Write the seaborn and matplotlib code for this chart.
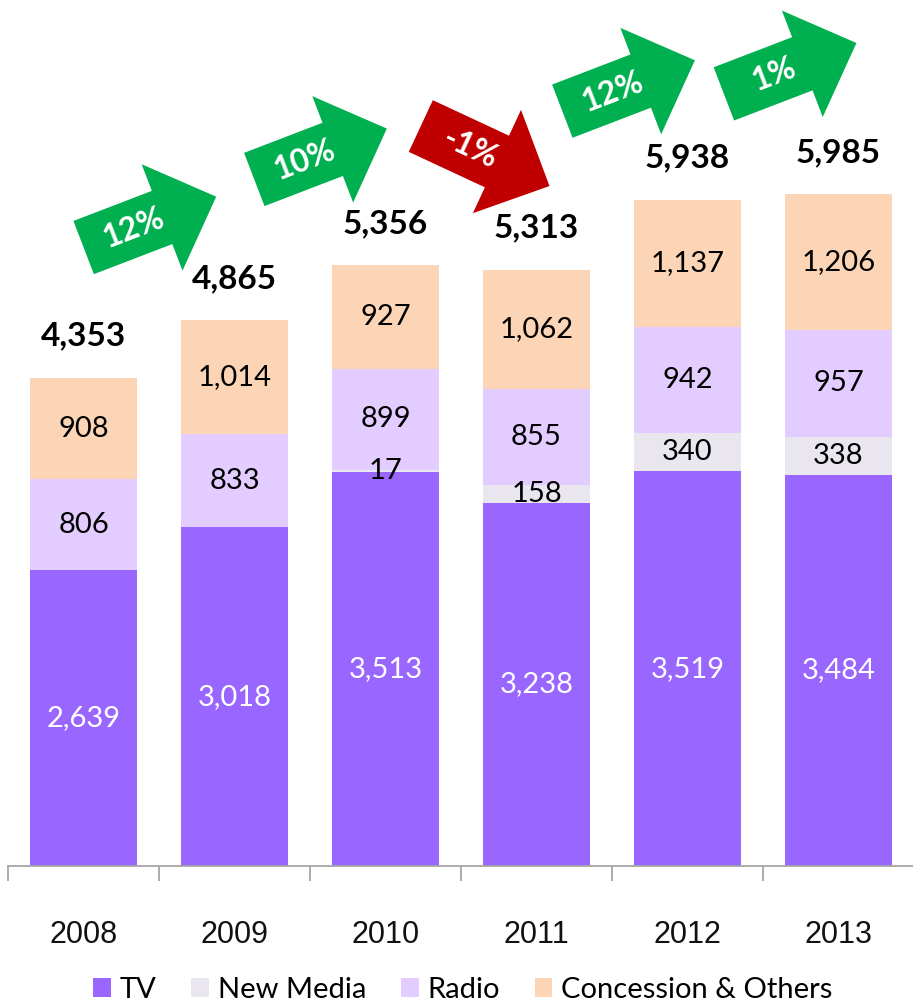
import numpy as np
import pandas as pd
import seaborn as sns
import matplotlib.pyplot as plt
from matplotlib.patches import FancyArrow, Patch
from matplotlib.transforms import IdentityTransform

# revenue by segment per year
years = ["2008", "2009", "2010", "2011", "2012", "2013"]
tv = [2639, 3018, 3513, 3238, 3519, 3484]
new_media = [0, 0, 17, 158, 340, 338]
radio = [806, 833, 899, 855, 942, 957]
concession = [908, 1014, 927, 1062, 1137, 1206]
totals = [4353, 4865, 5356, 5313, 5938, 5985]
growth = ["12%", "10%", "-1%", "12%", "1%"]

segments = ["TV", "New Media", "Radio", "Concession & Others"]
colors = ["#9966FF", "#EAE6F0", "#E3CCFF", "#FBD5B5"]
text_colors = ["white", "black", "black", "black"]

# arrow placement tweaks (x shift in categories, lift in pixels)
arrow_shift = [-0.06, 0.07, 0.16, 0.11, 0.18]
arrow_lift = [98, 111, 109, 114, 126]

FONT = "Lato"


def draw_arrow(fig, cx, cy, label, up):
    """Draws a growth arrow centred on display point (cx, cy)."""
    angle = np.deg2rad(21 if up else -25)
    length = 142
    dx, dy = length * np.cos(angle), length * np.sin(angle)
    x0, y0 = cx - dx / 2, cy - dy / 2
    color = "#00B050" if up else "#C00000"
    arrow = FancyArrow(x0, y0, dx, dy, width=57, head_width=114,
                       head_length=58, length_includes_head=True,
                       color=color, lw=0, transform=IdentityTransform())
    fig.add_artist(arrow)
    tx, ty = x0 + 0.38 * dx, y0 + 0.38 * dy
    fig.text(tx, ty, label, transform=IdentityTransform(), color="white",
             fontsize=23, fontweight="bold", family=FONT, ha="center",
             va="center", rotation=np.rad2deg(angle),
             rotation_mode="anchor")


def main():
    df = pd.DataFrame({"year": years, "TV": tv, "New Media": new_media,
                       "Radio": radio, "Concession & Others": concession})
    cum = df[segments].cumsum(axis=1)

    sns.set_style("white")
    plt.rcParams["text.color"] = "black"
    fig = plt.figure(figsize=(9.13, 10.01), dpi=100)
    ax = fig.add_axes([8 / 913, 135 / 1001, 906 / 913, 866 / 1001])

    # overlapping bars, tallest first, give the stacked look
    for seg, col in reversed(list(zip(segments, colors))):
        sns.barplot(x=df["year"], y=cum[seg], color=col, width=0.71,
                    saturation=1, errorbar=None, linewidth=0, ax=ax,
                    order=years)

    ax.set_xlim(-0.5, 5.5)
    ax.set_ylim(0, 7718)

    # segment labels
    for i in range(len(years)):
        bottom = 0
        for seg, tc in zip(segments, text_colors):
            v = df[seg][i]
            if v > 0:
                ax.text(i, bottom + v / 2, f"{v:,}", ha="center",
                        va="center", fontsize=21, color=tc, family=FONT)
            bottom += v
        ax.annotate(f"{totals[i]:,}", (i, totals[i]), xytext=(0, 30),
                    textcoords="offset points", ha="center", va="center",
                    fontsize=24, fontweight="bold", family=FONT,
                    color="black")

    # growth arrows between bars
    for i, g in enumerate(growth):
        top = max(totals[i], totals[i + 1])
        cx, cy = ax.transData.transform((i + 0.5 + arrow_shift[i], top))
        draw_arrow(fig, cx, cy + arrow_lift[i], g, not g.startswith("-"))

    # axis styling
    for s in ["left", "right", "top"]:
        ax.spines[s].set_visible(False)
    ax.spines["bottom"].set_color("#A6A6A6")
    ax.spines["bottom"].set_linewidth(1.3)
    ax.set_yticks([])
    ax.set_xlabel("")
    ax.set_ylabel("")
    ax.set_xticks(np.arange(-0.5, 6, 1))
    ax.set_xticklabels([])
    ax.tick_params(axis="x", which="major", length=11, width=1.3,
                   color="#A6A6A6", direction="out", bottom=True)
    ax.set_xticks(np.arange(6), minor=True)
    ax.set_xticklabels(years, minor=True, fontsize=22,
                       family="Liberation Sans", color="#111111")
    ax.tick_params(axis="x", which="minor", length=0, pad=39)

    handles = [Patch(facecolor=c, edgecolor="none", label=s)
               for s, c in zip(segments, colors)]
    fig.legend(handles=handles, loc="lower center",
               bbox_to_anchor=(0.507, -0.028), ncol=4, frameon=False,
               prop={"family": FONT, "size": 21}, handlelength=0.6,
               handleheight=0.6, handletextpad=0.3, columnspacing=1.2,
               labelcolor="black")

    fig.savefig("out.png", dpi=100)


if __name__ == "__main__":
    main()
